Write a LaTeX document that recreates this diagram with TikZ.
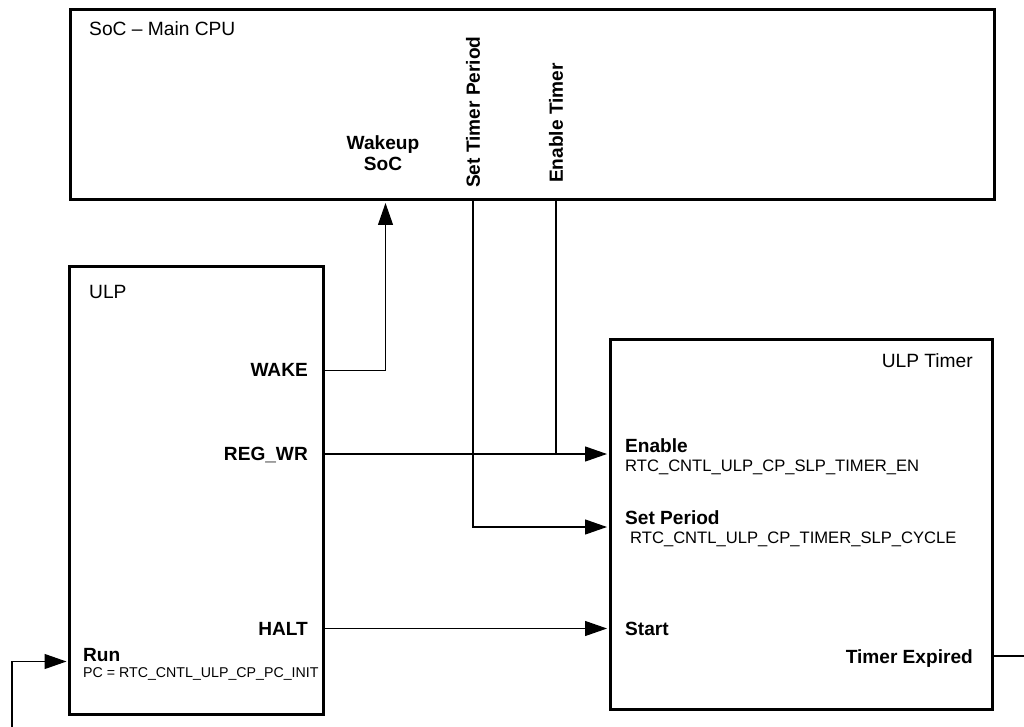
\documentclass[tikz,border=0pt]{standalone}
\usepackage{fontspec}
\setmainfont{Liberation Sans}
\usetikzlibrary{positioning,calc,arrows.meta}

\begin{document}
\begin{tikzpicture}[x=1pt, y=-1pt,
    box/.style={rectangle, draw, line width=3pt, inner sep=0pt},
    sig/.style={inner sep=0pt, font=\fontsize{19.1}{21}\selectfont\bfseries},
    title/.style={inner sep=0pt, font=\fontsize{19.2}{21}\selectfont},
    reg/.style={inner sep=0pt, font=\fontsize{16.6}{20}\selectfont},
    wire/.style={line width=1.2pt},
    arr/.style={wire, -{Triangle[length=22pt, width=15pt]}, shorten >=1.5pt}]
    \useasboundingbox (0,0) rectangle (1024,727);

    \node[box, minimum width=924pt, minimum height=190pt] (soc) at (532,105) {};
    \node[box, minimum width=254pt, minimum height=448pt] (ulp) at (196.5,490.5) {};
    \node[box, minimum width=382pt, minimum height=370pt] (tmr) at (801,524) {};

    \node[title, anchor=base west] (soclbl) at (89,36) {SoC -- Main CPU};
    \node[sig, align=center, anchor=north] (wkup) at (383,135) {Wakeup\\SoC};
    \node[sig, rotate=90, anchor=west] (per) at (473,188) {Set Timer Period};
    \node[sig, rotate=90, anchor=west] (ent) at (556,183) {Enable Timer};

    \node[title, anchor=base west] (ulplbl) at (89,298) {ULP};
    \node[sig, anchor=base east] (wake) at (308,376.5) {WAKE};
    \node[sig, anchor=base east] (regwr) at (308,460.5) {REG\_WR};
    \node[sig, anchor=base east] (halt) at (308,635) {HALT};
    \node[sig, anchor=base west] (run) at (83,661.5) {Run};
    \node[inner sep=0pt, font=\fontsize{14.2}{17}\selectfont, anchor=base west] (pcinit) at ([yshift=-16pt]run.base west) {PC = RTC\_CNTL\_ULP\_CP\_PC\_INIT};

    \node[title, anchor=base east] (tmrlbl) at (973,367) {ULP Timer};
    \node[sig, anchor=base west] (en) at (625,452) {Enable};
    \node[reg, anchor=base west] (enreg) at ([yshift=-19.5pt]en.base west) {RTC\_CNTL\_ULP\_CP\_SLP\_TIMER\_EN};
    \node[sig, anchor=base west] (setp) at (625,524.5) {Set Period};
    \node[reg, anchor=base west] (setreg) at ([xshift=5pt, yshift=-19pt]setp.base west) {RTC\_CNTL\_ULP\_CP\_TIMER\_SLP\_CYCLE};
    \node[sig, anchor=base west] (start) at (625,635.5) {Start};
    \node[sig, anchor=base east] (texp) at (973,663) {Timer Expired};

    \coordinate (runsrc) at (12,727);
    \coordinate (expout) at (1024,656);
    \coordinate (wakeout) at ($(ulp.east |- wake.base)+(0,-6)$);
    \coordinate (regout) at ($(ulp.east |- regwr.base)+(0,-6.5)$);
    \coordinate (haltout) at ($(ulp.east |- halt.base)+(0,-6.5)$);
    \coordinate (perin) at ($(tmr.west |- setp.base)+(0,2.5)$);

    \draw[arr] (wakeout) -| ($(wkup |- soc.south)+(2.5,0)$);
    \draw[arr] (regout) -- (tmr.west |- regout);
    \draw[wire] (ent |- soc.south) -- (ent |- regout);
    \draw[arr] (per |- soc.south) |- (perin);
    \draw[arr] (haltout) -- (tmr.west |- haltout);
    \draw[arr] (runsrc) |- (ulp.west |- run.base);
    \draw[wire] (tmr.east |- expout) -- (expout);
\end{tikzpicture}
\end{document}
